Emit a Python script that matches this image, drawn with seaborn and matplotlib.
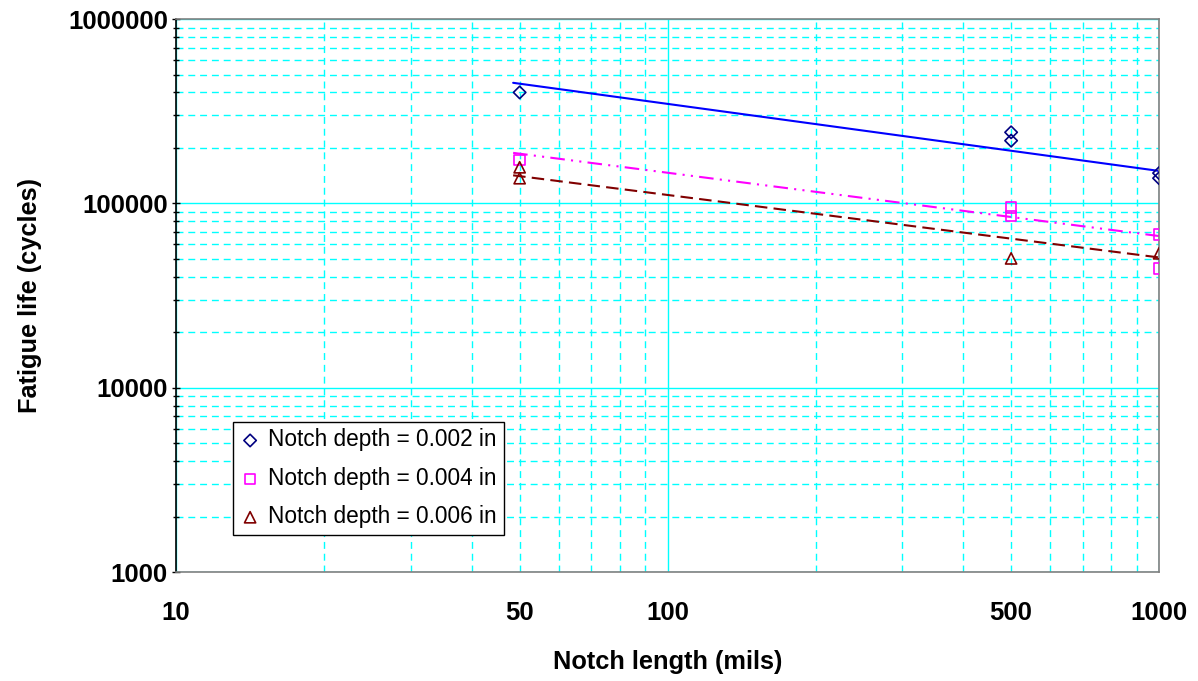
import numpy as np
import pandas as pd
import matplotlib
matplotlib.use('Agg')
import matplotlib.pyplot as plt
import matplotlib.ticker as mticker
import seaborn as sns

# Data
notch_length_002 = [50, 500, 500, 1000, 1000]
life_002 = [400000, 243000, 219000, 146000, 137000]
notch_length_004 = [50, 500, 500, 1000, 1000]
life_004 = [172000, 95000, 85700, 67900, 44400]
notch_length_006 = [50, 50, 500, 1000]
life_006 = [157000, 137000, 50300, 53600]

# power-law trendlines (end points)
trend_x = [48.5, 1000]
trend_002 = [451000, 150000]
trend_004 = [188000, 66500]
trend_006 = [142000, 50900]

labels = ['Notch depth = 0.002 in', 'Notch depth = 0.004 in', 'Notch depth = 0.006 in']

sns.set_style('white')
plt.rcParams['font.family'] = ['Liberation Sans', 'DejaVu Sans']
plt.rcParams['text.color'] = 'black'
plt.rcParams['axes.labelcolor'] = 'black'
plt.rcParams['xtick.color'] = 'black'
plt.rcParams['ytick.color'] = 'black'

fig, ax = plt.subplots(figsize=(11.98, 6.81), dpi=100)
fig.subplots_adjust(left=0.147, right=0.9675, top=0.972, bottom=0.160)

ax.set_xscale('log')
ax.set_yscale('log')

# trendlines
sns.lineplot(x=trend_x, y=trend_002, color='#0000FF', lw=1.5, ax=ax, legend=False)
sns.lineplot(x=trend_x, y=trend_004, color='#FF00FF', lw=1.5,
             linestyle=(0, (7, 3, 1, 3, 1, 3)), ax=ax, legend=False)
sns.lineplot(x=trend_x, y=trend_006, color='#800000', lw=1.5,
             linestyle=(0, (6, 3)), ax=ax, legend=False)

# markers
sns.scatterplot(x=notch_length_002, y=life_002, marker='D', s=40, color='#000080',
                facecolor='none', edgecolor='#000080', linewidth=1.2, label=labels[0], ax=ax, zorder=4)
sns.scatterplot(x=notch_length_004, y=life_004, marker='s', s=55, color='#FF00FF',
                facecolor='none', edgecolor='#FF00FF', linewidth=1.2, label=labels[1], ax=ax, zorder=4)
sns.scatterplot(x=notch_length_006, y=life_006, marker='^', s=65, color='#800000',
                facecolor='none', edgecolor='#800000', linewidth=1.2, label=labels[2], ax=ax, zorder=4)

ax.set_xlim(10, 1000)
ax.set_ylim(1000, 1000000)

# ticks and labels
ax.xaxis.set_major_locator(mticker.LogLocator(base=10, numticks=10))
ax.xaxis.set_minor_locator(mticker.LogLocator(base=10, subs=np.arange(2, 10), numticks=10))
ax.xaxis.set_major_formatter(mticker.FuncFormatter(lambda v, p: f'{v:.0f}'))
ax.xaxis.set_minor_formatter(mticker.FuncFormatter(
    lambda v, p: f'{v:.0f}' if round(v) in (50, 500) else ''))
ax.yaxis.set_major_locator(mticker.LogLocator(base=10, numticks=10))
ax.yaxis.set_minor_locator(mticker.LogLocator(base=10, subs=np.arange(2, 10), numticks=10))
ax.yaxis.set_major_formatter(mticker.FuncFormatter(lambda v, p: f'{v:.0f}'))
ax.yaxis.set_minor_formatter(mticker.NullFormatter())

ax.tick_params(axis='x', which='both', length=0, pad=21, labelsize=18.5)
ax.tick_params(axis='y', which='major', length=6, width=1, direction='inout',
               color='black', pad=3, labelsize=18.5, left=True)
ax.tick_params(axis='y', which='minor', length=5, width=1, direction='inout',
               color='black', left=True)
for t in ax.get_yticklabels() + ax.get_xticklabels(which='both'):
    t.set_fontweight('bold')

# grid
ax.grid(True, which='major', color='#00FFFF', linestyle='-', linewidth=1.0)
ax.grid(True, which='minor', color='#00FFFF', linestyle=(0, (5, 3.5)), linewidth=1.0)
ax.set_axisbelow(True)

for side in ['top', 'right', 'bottom']:
    ax.spines[side].set_color('#808080')
    ax.spines[side].set_linewidth(1.2)
ax.spines['left'].set_color('black')
ax.spines['left'].set_linewidth(1.2)

ax.set_xlabel('Notch length (mils)', fontsize=18.3, fontweight='bold', labelpad=18)
ax.set_ylabel('Fatigue life (cycles)', fontsize=18.3, fontweight='bold', labelpad=19)

leg = ax.legend(loc='lower left', bbox_to_anchor=(0.058, 0.067), borderaxespad=0,
                fancybox=False, edgecolor='black', framealpha=1, fontsize=16.3,
                handletextpad=0.35, handlelength=0.9, labelspacing=0.68, borderpad=0.3)
leg.get_frame().set_linewidth(1.0)

fig.savefig('out.png', dpi=100)
